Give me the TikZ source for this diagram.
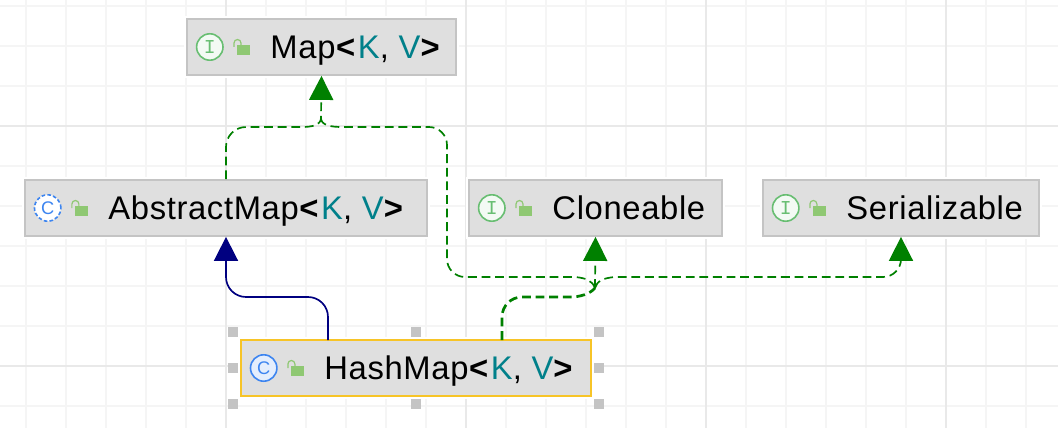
\documentclass[tikz,border=0pt]{standalone}
\usepackage{fontspec}
\setmainfont{Liberation Sans}[LetterSpace=2.0]
\setsansfont{Liberation Sans}
\setmonofont{Liberation Mono}
\usetikzlibrary{arrows.meta,positioning}
\definecolor{gridminor}{HTML}{F5F5F5}
\definecolor{gridmajor}{HTML}{E9E9E9}
\definecolor{boxfill}{HTML}{DFDFDF}
\definecolor{boxline}{HTML}{C4C4C4}
\definecolor{picked}{HTML}{F7C427}
\definecolor{realize}{HTML}{008000}
\definecolor{extend}{HTML}{000080}
\definecolor{typeteal}{HTML}{00808A}
\definecolor{ifacegreen}{HTML}{68BE72}
\definecolor{classblue}{HTML}{3D85F0}
\definecolor{lockgreen}{HTML}{8FC873}
\newcommand{\kv}{\textbf{<}\kern.5mm\textcolor{typeteal}{K}, \textcolor{typeteal}{V}\textbf{>}}
% lock sits to the right of the round icon, shackle open to the left
\newcommand{\lockicon}[1]{%
  \node[lockbody,right=6.8mm of #1.center] (#1lock) {};
  \draw[lockhook] (#1lock.west) ++(-3,-3) -- ++(0,-4) arc[start angle=180,end angle=360,radius=3.5] -- ++(0,2);}

\begin{document}
\begin{tikzpicture}[x=.25mm,y=-.25mm,
  font=\fontsize{23.3}{26}\selectfont,
  gridline/.style={gridminor,line width=.45mm},
  gridstrong/.style={gridmajor,line width=.45mm},
  classbox/.style={draw=boxline,fill=boxfill,line width=.45mm,minimum height=14mm,inner sep=0pt,
                   preaction={draw=white,line width=1.5mm}},
  title/.style={anchor=west,inner sep=0pt,text depth=0pt},
  ifaceicon/.style={circle,draw=ifacegreen,fill=ifacegreen!8,line width=.4mm,minimum size=6.6mm,inner sep=0pt,
                    text=ifacegreen,font=\ttfamily\fontsize{14}{14}\selectfont},
  classicon/.style={circle,draw=classblue,fill=classblue!14,line width=.4mm,minimum size=6.6mm,inner sep=0pt,
                    text=classblue,font=\sffamily\fontsize{13}{13}\selectfont},
  abstracticon/.style={classicon,fill=white,dash pattern=on .9mm off .55mm},
  lockbody/.style={fill=lockgreen,minimum width=3.1mm,minimum height=2.5mm,inner sep=0pt,yshift=-.75mm},
  lockhook/.style={draw=lockgreen,line width=.3mm},
  handle/.style={fill=boxline,minimum size=2.5mm,inner sep=0pt},
  implements/.style={draw=realize,line width=.42mm,dash pattern=on 2.2mm off 1.2mm},
  implementsmain/.style={implements,line width=.68mm},
  tipgreen/.style={-{Triangle[length=6mm,width=6mm,color=realize]}},
  extendsline/.style={draw=extend,line width=.42mm,-{Triangle[length=6mm,width=6mm,color=extend]}}
]
\path[use as bounding box,fill=white] (0,0) rectangle (1058,428);

\foreach \x in {26,66,106,146,186,266,306,346,386,426,506,546,586,626,666,746,786,826,866,906,986,1026}{\draw[gridline] (\x,0) -- (\x,428);}
\foreach \y in {6,46,86,166,206,246,286,326,406}{\draw[gridline] (0,\y) -- (1058,\y);}
\foreach \x in {226,466,706,946}{\draw[gridstrong] (\x,0) -- (\x,428);}
\foreach \y in {126,366}{\draw[gridstrong] (0,\y) -- (1058,\y);}

\node[classbox,minimum width=67.2mm] (map) at (321.5,47) {};
\node[classbox,minimum width=100.5mm] (abstractmap) at (226,208) {};
\node[classbox,minimum width=63.2mm] (cloneable) at (595.5,208) {};
\node[classbox,minimum width=69mm] (serializable) at (901,208) {};
\node[classbox,draw=picked,minimum width=87.5mm] (hashmap) at (416,368) {};

\node[ifaceicon,right=5.9mm of map.west,anchor=center] (mapicon) {I};
\lockicon{mapicon}
\node[title,right=21mm of map.west] (maptext) {Map\kv};

\node[abstracticon,right=5.9mm of abstractmap.west,anchor=center] (abstracticon) {C};
\lockicon{abstracticon}
\node[title,right=21mm of abstractmap.west] (abstracttext) {AbstractMap\kv};

\node[ifaceicon,right=5.9mm of cloneable.west,anchor=center] (cloneicon) {I};
\lockicon{cloneicon}
\node[title,right=21mm of cloneable.west] (clonetext) {Cloneable};

\node[ifaceicon,right=5.9mm of serializable.west,anchor=center] (serialicon) {I};
\lockicon{serialicon}
\node[title,right=21mm of serializable.west] (serialtext) {Serializable};

\node[classicon,right=5.9mm of hashmap.west,anchor=center] (hashicon) {C};
\lockicon{hashicon}
\node[title,right=21mm of hashmap.west] (hashtext) {HashMap\kv};

\foreach \x/\y/\n in {233/332/a,416/332/b,599/332/c,233/368/d,599/368/e,233/404/f,416/404/g,599/404/h}{\node[handle] (handle\n) at (\x,\y) {};}

\coordinate (mapjoin) at (321,118);
\coordinate (merge) at (595,288);
\coordinate (hashleft) at (328,340);
\coordinate (hashright) at (502,340);

\draw[extendsline,rounded corners=5mm] (hashleft) -- (328,297) -- (226,297) -- (abstractmap.south);
\draw[implements,tipgreen] [rounded corners=5mm] (abstractmap.north) -- (226,127) [sharp corners] -- (302,127) .. controls (312,127) and (321,125) .. (mapjoin) -- (map.south);
\draw[implements] (mapjoin) .. controls (321,125) and (330,127) .. (342,127) [rounded corners=4.5mm] -- (447,127) -- (447,277) [sharp corners] -- (575,277) .. controls (585,278) and (592,280) .. (merge);
\draw[implements,tipgreen] (merge) -- (cloneable.south);
\draw[implements,tipgreen] (merge) .. controls (597,281) and (603,278) .. (615,277) [rounded corners=4.5mm] -- (901,277) -- (serializable.south);
\draw[implementsmain] [rounded corners=5mm] (hashright) -- (502,297) [sharp corners] -- (570,297) .. controls (580,297) and (590,294) .. (merge);
\end{tikzpicture}
\end{document}
